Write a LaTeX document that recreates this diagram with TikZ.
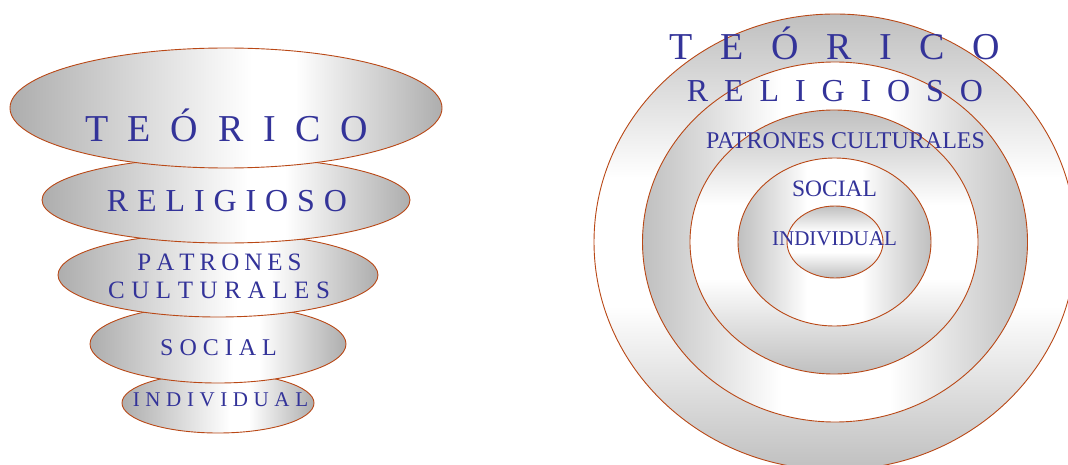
\documentclass[tikz,border=0pt]{standalone}
\usepackage{fontspec}
\setmainfont{Liberation Serif}
\usetikzlibrary{shapes.geometric}
\definecolor{edge}{RGB}{185,72,22}
\definecolor{ink}{RGB}{51,51,153}
\definecolor{fg}{gray}{0.68}
\definecolor{rg}{gray}{0.75}
\pgfdeclarehorizontalshading{funnelshade}{100bp}{color(0bp)=(fg); color(25bp)=(fg); color(53bp)=(white); color(58bp)=(white); color(75bp)=(fg); color(100bp)=(fg)}
\pgfdeclarehorizontalshading{ringh}{100bp}{color(0bp)=(rg); color(25bp)=(rg); color(43bp)=(white); color(57bp)=(white); color(75bp)=(rg); color(100bp)=(rg)}
\pgfdeclareverticalshading{ringv}{100bp}{color(0bp)=(rg); color(25bp)=(rg); color(43bp)=(white); color(57bp)=(white); color(75bp)=(rg); color(100bp)=(rg)}
\newcommand\lsp[2]{{\spaceskip=#1\relax #2}}
\newcommand\fsz[1]{\fontsize{#1}{#1}\selectfont}
\tikzset{
  ring/.style={ellipse, draw=edge, line width=0.9pt, inner sep=0pt},
  lbl/.style={text=ink, inner sep=0pt, anchor=base},
}
\begin{document}
\begin{tikzpicture}[x=1pt,y=-1pt]
\useasboundingbox (0,0) rectangle (1068,465);
\clip (0,0) rectangle (1068,465);
% left funnel
\node[ring, shading=funnelshade, minimum width=192pt, minimum height=60pt] (fi) at (218,403) {};
\node[ring, shading=funnelshade, minimum width=256pt, minimum height=78pt] (fs) at (218,344) {};
\node[ring, shading=funnelshade, minimum width=320pt, minimum height=84pt] (fp) at (218,275) {};
\node[ring, shading=funnelshade, minimum width=368pt, minimum height=86pt] (fr) at (226,200) {};
\node[ring, shading=funnelshade, minimum width=432pt, minimum height=120pt] (ft) at (226,108) {};
% right target
\node[ring, shading=ringv, minimum width=482pt, minimum height=456pt] (r1) at (835,242) {};
\node[ring, shading=ringh, minimum width=385pt, minimum height=360pt] (r2) at (835,242) {};
\node[ring, shading=ringv, minimum width=288pt, minimum height=264pt] (r3) at (834,242) {};
\node[ring, shading=ringh, minimum width=193pt, minimum height=168pt] (r4) at (834.5,242) {};
\node[ring, shading=ringv, minimum width=96pt, minimum height=72pt] (r5) at (835,242) {};
% left labels
\node[lbl, font=\fsz{38}] (lt) at (226.5,141.7) {\lsp{19.7pt}{T E Ó R I C O}};
\node[lbl, font=\fsz{32}] (lr) at (227,211.7) {\lsp{8.9pt}{R E L I G I O S O}};
\node[lbl, font=\fsz{25}] (lp) at (219.5,270) {\lsp{5pt}{P A T R O N E S}};
\node[lbl, font=\fsz{25}] (lc) at (219,298) {\lsp{6.6pt}{C U L T U R A L E S}};
\node[lbl, font=\fsz{24}] (ls) at (218.5,355) {\lsp{6pt}{S O C I A L}};
\node[lbl, font=\fsz{21}] (li) at (220.5,406.7) {\lsp{5.6pt}{I N D I V I D U A L}};
% right labels
\node[lbl, font=\fsz{38}] (rt) at (835,60) {\lsp{27.6pt}{T E Ó R I C O}};
\node[lbl, font=\fsz{32}] (rr) at (835,101.7) {\lsp{15.9pt}{R E L I G I O S O}};
\node[lbl, font=\fsz{24}] (rp) at (845.5,148.3) {PATRONES CULTURALES};
\node[lbl, font=\fsz{23.5}] (rs) at (834.5,196.7) {SOCIAL};
\node[lbl, font=\fsz{21}] (ri) at (834.5,245) {INDIVIDUAL};
\end{tikzpicture}
\end{document}
